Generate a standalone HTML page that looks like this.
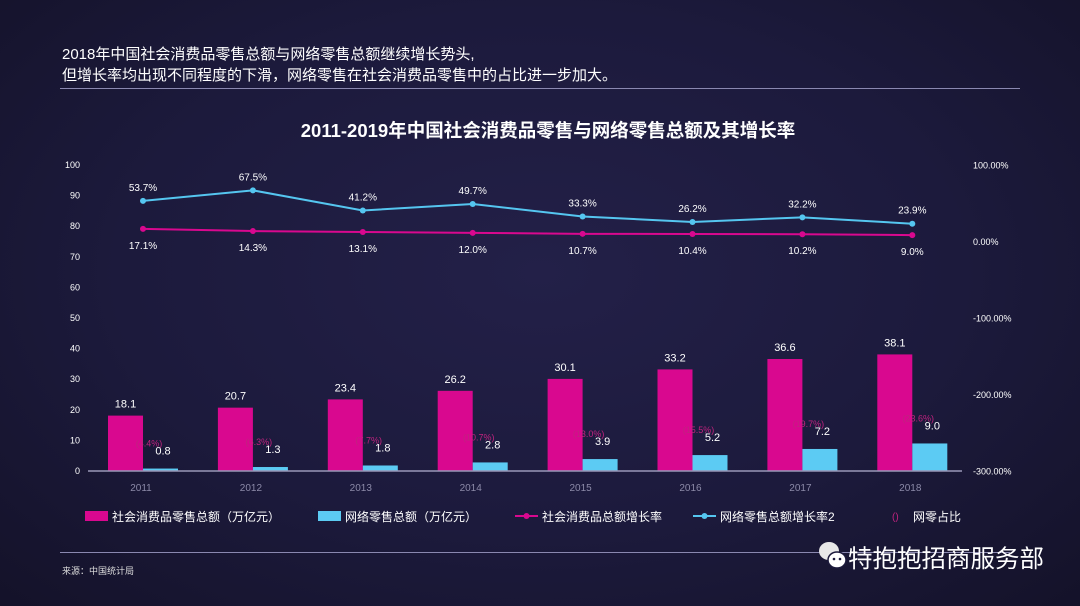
<!DOCTYPE html>
<html><head><meta charset="utf-8"><style>
html,body{margin:0;padding:0}
body{width:1080px;height:606px;overflow:hidden;background:radial-gradient(ellipse at 50% 45%,#232048 0%,#1c1a3c 55%,#141229 100%);font-family:"Liberation Sans","Noto Sans CJK SC",sans-serif;color:#fff;position:relative}
.t{position:absolute}
</style></head><body>
<div class="t" style="left:62px;top:44px;font-size:15px;line-height:21px;color:#fff">2018年中国社会消费品零售总额与网络零售总额继续增长势头,<br>但增长率均出现不同程度的下滑，网络零售在社会消费品零售中的占比进一步加大。</div>
<div class="t" style="left:60px;top:88px;width:960px;height:1px;background:#8a88b0"></div>
<div class="t" style="left:60px;top:552px;width:950px;height:1px;background:#8a88b0"></div>
<div class="t" style="left:62px;top:564px;font-size:9px;color:#ddd">来源：中国统计局</div>
<svg class="t" style="left:818px;top:540px" width="30" height="32"><ellipse cx="11" cy="11" rx="10" ry="9" fill="#e8e8e8"/><ellipse cx="19" cy="20" rx="9" ry="8" fill="#fff" stroke="#1c1a3c" stroke-width="1.5"/><circle cx="16" cy="19" r="1.3" fill="#1c1a3c"/><circle cx="22" cy="19" r="1.3" fill="#1c1a3c"/></svg>
<div class="t" style="left:848px;top:540px;font-size:24.5px;color:#fff;white-space:nowrap">特抱抱招商服务部</div>
<svg class="t" style="left:0;top:0" width="1080" height="606" id="chart"></svg>
<script>
const years=['2011','2012','2013','2014','2015','2016','2017','2018'];
const retail=[18.1,20.7,23.4,26.2,30.1,33.2,36.6,38.1];
const online=[0.8,1.3,1.8,2.8,3.9,5.2,7.2,9.0];
const retailGrowth=[17.1,14.3,13.1,12.0,10.7,10.4,10.2,9.0];
const onlineGrowth=[53.7,67.5,41.2,49.7,33.3,26.2,32.2,23.9];
const share=[4.4,6.3,7.7,10.7,13.0,15.5,19.7,23.6];
const leftTicks=[0,10,20,30,40,50,60,70,80,90,100];
const rightTicks=[100,0,-100,-200,-300];
const NS='http://www.w3.org/2000/svg';
const svg=document.getElementById('chart');
const yL=v=>471-v*3.06;
const yR=v=>242-v*0.765;
const xC=i=>143+i*109.9;
function el(t,a,txt){const e=document.createElementNS(NS,t);for(const k in a)e.setAttribute(k,a[k]);if(txt!=null)e.textContent=txt;svg.appendChild(e);return e;}
let e=el('text',{x:548,y:137,'text-anchor':'middle','font-size':18.5,'font-weight':'bold',fill:'#fff'},'2011-2019年中国社会消费品零售与网络零售总额及其增长率');


leftTicks.forEach(v=>{const t=el('text',{x:80,y:yL(v)+3,'text-anchor':'end','font-size':9,fill:'#fff'},v);

});
rightTicks.forEach(v=>{const t=el('text',{x:973,y:yR(v)+3,'font-size':9,fill:'#fff'},v.toFixed(2)+'%');

});
years.forEach((y,i)=>{
const c=xC(i);
let r=el('rect',{x:c-35,y:yL(retail[i]),width:35,height:471-yL(retail[i]),fill:'#d9088f'});


let b=el('rect',{x:c,y:yL(online[i]),width:35,height:471-yL(online[i]),fill:'#5ccbf3'});


let t1=el('text',{x:c-17.5,y:yL(retail[i])-8,'text-anchor':'middle','font-size':11,fill:'#fff'},retail[i].toFixed(1));


let t3=el('text',{x:c+6,y:yL(online[i])-22,'text-anchor':'middle','font-size':9,fill:'#c0237f'},'('+share[i].toFixed(1)+'%)');


let t2=el('text',{x:c+20,y:yL(online[i])-14,'text-anchor':'middle','font-size':11,fill:'#fff'},online[i].toFixed(1));


let t4=el('text',{x:c-2,y:491,'text-anchor':'middle','font-size':10,fill:'#8c8aa8'},y);


});
let ax=el('line',{x1:88,x2:962,y1:471,y2:471,stroke:'#9a98b8','stroke-width':1.5});


function line(vals,col,name,above){
const p=el('polyline',{points:vals.map((v,i)=>xC(i)+','+yR(v)).join(' '),fill:'none',stroke:col,'stroke-width':2});


vals.forEach((v,i)=>{const d=el('circle',{cx:xC(i),cy:yR(v),r:3,fill:col});


const t=el('text',{x:xC(i),y:yR(v)+(above?-10:20),'text-anchor':'middle','font-size':10,fill:'#fff'},v.toFixed(1)+'%');

});
}
line(onlineGrowth,'#55c6f0','online-growth-line',true);
line(retailGrowth,'#d9088f','retail-growth-line',false);
const lg=[[85,'rect','#d9088f','社会消费品零售总额（万亿元）'],[318,'rect','#5ccbf3','网络零售总额（万亿元）'],[515,'line','#d9088f','社会消费品总额增长率'],[693,'line','#55c6f0','网络零售总额增长率2'],[888,'paren','#c0237f','网零占比']];
lg.forEach(([x,k,c,txt])=>{
if(k==='rect'){const r=el('rect',{x:x,y:511,width:23,height:10,fill:c});}
else if(k==='line'){el('line',{x1:x,x2:x+23,y1:516,y2:516,stroke:c,'stroke-width':2});el('circle',{cx:x+11.5,cy:516,r:3,fill:c});}
else{el('text',{x:x+4,y:520,'font-size':10,fill:c},'()');}
const t=el('text',{x:x+27+(k==='paren'?-2:0),y:521,'font-size':12,fill:'#fff'},txt);


});
</script>
</body></html>
